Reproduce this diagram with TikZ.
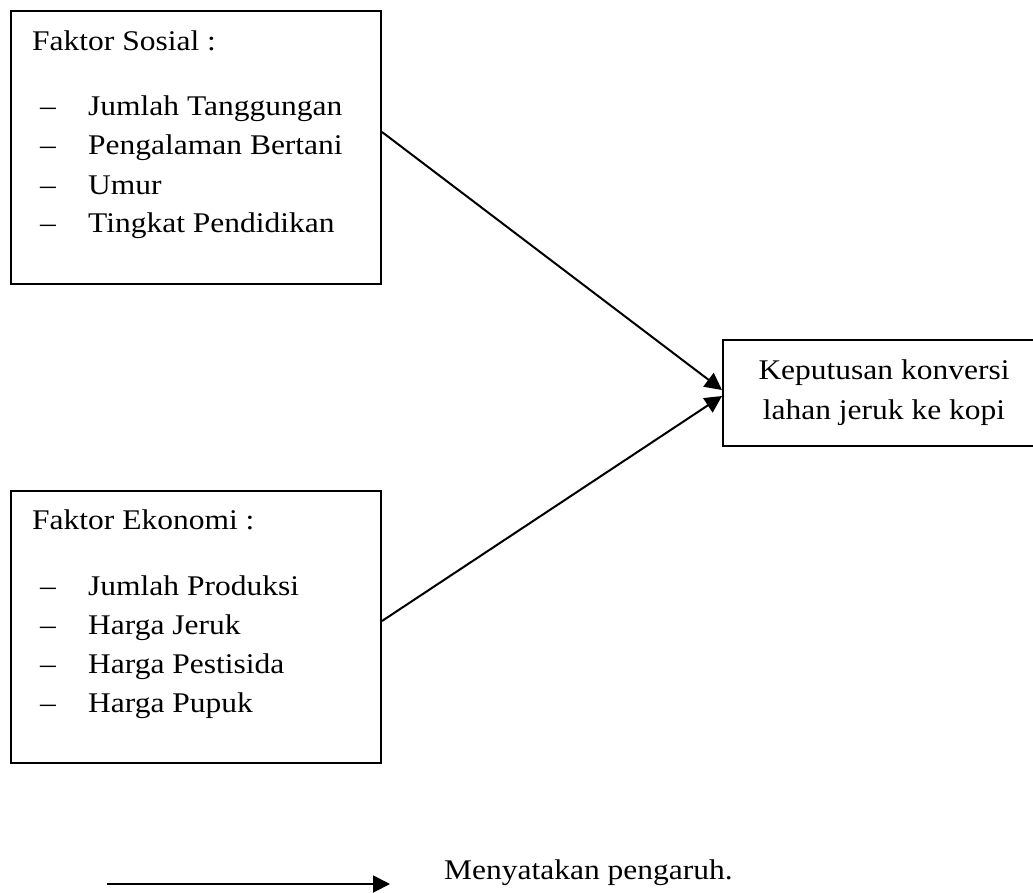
\documentclass[tikz,border=0pt]{standalone}
\usepackage{fontspec}
\setmainfont{Liberation Serif}[FakeStretch=1.105]
\usetikzlibrary{arrows.meta}
\begin{document}
\begin{tikzpicture}[x=1pt,y=-1pt,
  font=\fontsize{28.5}{40}\selectfont,
  box/.style={draw, line width=2pt, rectangle, inner sep=0pt},
  txt/.style={anchor=base west, inner sep=0pt},
  arr/.style={line width=2pt, -{Triangle[length=17pt,width=17pt]}}]
\clip (0,0) rectangle (1033,892);
\fill[white] (0,0) rectangle (1033,892);
% boxes
\node[box, anchor=north west, minimum width=370pt, minimum height=273pt] (sos) at (10,10) {};
\node[box, anchor=north west, minimum width=370pt, minimum height=272pt] (eko) at (10,490) {};
\node[box, align=center, minimum width=322pt, minimum height=106pt] (kep) at (884,393) {Keputusan konversi\\lahan jeruk ke kopi};
% social text
\node[txt] (st) at (32,50) {Faktor Sosial :};
\node[txt] (sd1) at (40,115) {–};
\node[txt] (s1) at (88,115) {Jumlah Tanggungan};
\node[txt] (sd2) at (40,154) {–};
\node[txt] (s2) at (88,154) {Pengalaman Bertani};
\node[txt] (sd3) at (40,194) {–};
\node[txt] (s3) at (88,194) {Umur};
\node[txt] (sd4) at (40,232) {–};
\node[txt] (s4) at (88,232) {Tingkat Pendidikan};
% economic text
\node[txt] (et) at (32,529) {Faktor Ekonomi :};
\node[txt] (ed1) at (40,595) {–};
\node[txt] (e1) at (88,595) {Jumlah Produksi};
\node[txt] (ed2) at (40,634) {–};
\node[txt] (e2) at (88,634) {Harga Jeruk};
\node[txt] (ed3) at (40,673) {–};
\node[txt] (e3) at (88,673) {Harga Pestisida};
\node[txt] (ed4) at (40,712) {–};
\node[txt] (e4) at (88,712) {Harga Pupuk};
% connectors
\draw[arr] ([yshift=-122pt]sos.north east) -- ([yshift=3pt]kep.west);
\draw[arr] ([yshift=-131pt]eko.north east) -- ([yshift=-3pt]kep.west);
% legend
\coordinate (la) at (107,884);
\coordinate (lb) at (390,884);
\draw[arr] (la) -- (lb);
\node[txt] (leg) at (444,879) {Menyatakan pengaruh.};
\end{tikzpicture}
\end{document}
